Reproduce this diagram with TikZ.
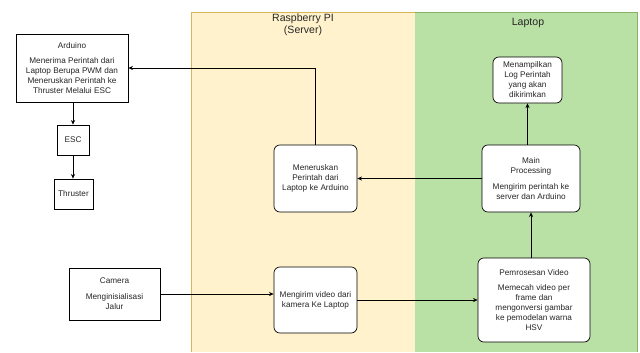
\documentclass[tikz,border=0pt]{standalone}
\usepackage{fontspec}
\setmainfont{Liberation Sans}
\usetikzlibrary{arrows.meta}

\definecolor{serverfill}{HTML}{FFF2CC}
\definecolor{serverline}{HTML}{D6B656}
\definecolor{laptopfill}{HTML}{B9E0A5}
\definecolor{laptopline}{HTML}{82B366}

\tikzset{
  box/.style={draw=black,fill=white,line width=0.6pt,align=center,inner sep=1pt},
  rbox/.style={box,rounded corners=5pt},
  lanetitle/.style={align=center,font=\fontsize{9}{10}\selectfont},
  link/.style={-{Stealth[length=4pt,width=3.5pt]},line width=0.6pt}
}

\begin{document}
\begin{tikzpicture}[x=0.03cm,y=-0.03cm,font=\fontsize{7}{8.5}\selectfont,text=black!85]
\useasboundingbox (0,0) rectangle (640,352);
% lanes
\fill[serverfill] (191,12) rectangle (415,352);
\fill[laptopfill] (415,12) rectangle (637,352);
\draw[serverline,line width=0.5pt] (191,352) -- (191,12) -- (415,12);
\draw[laptopline,line width=0.5pt] (415,12) -- (637,12) -- (637,352);
\node[lanetitle] (laneserver) at (303,25) {Raspberry PI\\(Server)};
\node[lanetitle] (lanelaptop) at (528,23) {Laptop};

% left side, no lane
\node[box,minimum width=3.36cm,minimum height=2.04cm] (arduino) at (72,68)
  {Arduino\\[5pt]Menerima Perintah dari\\Laptop Berupa PWM dan\\Meneruskan Perintah ke\\Thruster Melalui ESC};
\node[box,minimum width=0.96cm,minimum height=0.9cm] (esc) at (73,140) {ESC};
\node[box,minimum width=1.17cm,minimum height=0.9cm] (thruster) at (73.5,194) {Thruster};
\node[box,minimum width=2.73cm,minimum height=1.56cm] (camera) at (114.5,294)
  {Camera\\[5pt]Menginisialisasi\\Jalur};

% server lane
\node[rbox,minimum width=2.49cm,minimum height=2.01cm] (meneruskan) at (315.5,178.5)
  {Meneruskan\\Perintah dari\\Laptop ke Arduino};
\node[rbox,minimum width=2.49cm,minimum height=1.98cm] (mengirim) at (315.5,300)
  {Mengirim video dari\\kamera Ke Laptop};

% laptop lane
\node[rbox,minimum width=2.07cm,minimum height=1.38cm] (menampilkan) at (527.5,80)
  {Menampilkan\\Log Perintah\\yang akan\\dikirimkan};
\node[rbox,minimum width=2.94cm,minimum height=2.01cm] (mainproc) at (531,178.5)
  {Main\\Processing\\[5pt]Mengirim perintah ke\\server dan Arduino};
\node[rbox,minimum width=3.36cm,minimum height=2.52cm] (pemrosesan) at (534,300)
  {Pemrosesan Video\\[5pt]Memecah video per\\frame dan\\mengonversi gambar\\ke pemodelan warna\\HSV};

% connectors
\draw[link] (camera.east) -- (camera.east -| mengirim.west);
\draw[link] (mengirim.east) -- (mengirim.east -| pemrosesan.west);
\draw[link] (pemrosesan.north -| mainproc.south) -- (mainproc.south);
\draw[link] (mainproc.north -| menampilkan.south) -- (menampilkan.south);
\draw[link] (mainproc.west) -- (meneruskan.east);
\draw[link] (meneruskan.north) |- (arduino.east);
\draw[link] (arduino.south -| esc.north) -- (esc.north);
\draw[link] (esc.south) -- (esc.south |- thruster.north);
\end{tikzpicture}
\end{document}
